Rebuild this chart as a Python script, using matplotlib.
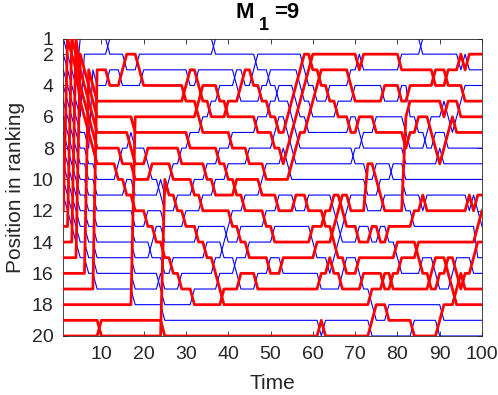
import matplotlib
matplotlib.use("Agg")
import matplotlib.pyplot as plt
import numpy as np

# ---- data -------------------------------------------------------------
n_positions = 20
time_first, time_last = 1, 100
# colour class of the item sitting at each position at time 1 (top -> bottom)
initial_class = ['blue'] * 11 + ['red'] * 9
# ranking moves: (time, from_position, to_position); the item at from_position
# moves to to_position between time and time+1, the items in between shift by one
moves = [
    (1, 12, 1), (2, 13, 1), (3, 14, 1), (4, 4, 1), (4, 15, 2), (5, 6, 2),
    (6, 16, 3), (7, 8, 3), (8, 17, 3), (9, 20, 19), (11, 1, 2), (11, 3, 4),
    (13, 9, 10), (14, 3, 4), (14, 8, 9), (15, 2, 3), (15, 10, 11), (16, 7, 8),
    (17, 18, 6), (18, 2, 3), (19, 3, 4), (20, 8, 9), (20, 12, 13), (21, 9, 10),
    (21, 14, 15), (22, 13, 14), (23, 10, 11), (23, 16, 17), (24, 20, 10),
    (25, 10, 11), (26, 9, 10), (26, 15, 16), (27, 11, 12), (28, 8, 9),
    (28, 16, 17), (29, 4, 5), (29, 12, 13), (30, 7, 8), (30, 3, 4),
    (31, 10, 11), (31, 17, 18), (32, 3, 4), (32, 5, 6), (32, 13, 14),
    (33, 4, 5), (33, 6, 7), (33, 11, 12), (34, 9, 10), (34, 14, 15), (35, 5, 6),
    (36, 1, 2), (36, 10, 11), (36, 15, 16), (37, 4, 5), (37, 8, 9), (37, 16, 17),
    (38, 14, 15), (38, 17, 18), (39, 5, 6), (39, 9, 10), (39, 13, 14),
    (40, 7, 8), (40, 12, 13), (41, 3, 4), (41, 10, 11), (41, 15, 16),
    (42, 4, 5), (42, 13, 14), (42, 16, 17), (43, 3, 4), (43, 11, 12),
    (44, 8, 9), (44, 14, 15), (45, 3, 4), (46, 2, 3), (46, 6, 7), (46, 16, 17),
    (47, 4, 5), (47, 10, 11), (48, 12, 13), (48, 9, 10), (49, 5, 6),
    (49, 15, 16), (49, 3, 4), (50, 7, 8), (50, 13, 14), (51, 4, 5), (51, 6, 7),
    (51, 11, 12), (52, 8, 9), (52, 15, 16), (53, 6, 7), (53, 8, 9), (54, 5, 6),
    (54, 7, 8), (54, 9, 10), (55, 4, 5), (55, 6, 7), (55, 8, 9), (55, 11, 12),
    (56, 3, 4), (56, 5, 6), (56, 7, 8), (57, 2, 3), (57, 4, 5), (58, 3, 4),
    (58, 6, 7), (58, 11, 12), (59, 2, 3), (59, 5, 6), (59, 13, 14), (60, 4, 5),
    (60, 14, 15), (61, 19, 20), (61, 3, 4), (61, 16, 17), (62, 19, 20),
    (62, 12, 13), (63, 4, 5), (63, 15, 16), (64, 11, 12), (64, 13, 14),
    (64, 15, 16), (65, 12, 13), (65, 14, 15), (65, 5, 6), (66, 13, 14),
    (66, 16, 17), (66, 11, 12), (67, 12, 13), (67, 15, 16), (68, 3, 4),
    (68, 6, 7), (68, 11, 12), (69, 4, 5), (69, 8, 9), (70, 2, 3), (70, 6, 7),
    (70, 13, 14), (70, 15, 16), (71, 2, 3), (71, 7, 8), (71, 16, 17),
    (72, 12, 9),
    (73, 13, 14), (73, 17, 18), (73, 19, 20),
    (74, 18, 19), (74, 9, 10), (74, 6, 7),
    (75, 10, 11), (75, 13, 14),
    (76, 4, 5), (76, 11, 12), (76, 16, 17),
    (77, 13, 14), (77, 18, 19),
    (78, 9, 10), (78, 16, 17),
    (79, 14, 15),
    (80, 2, 3), (80, 4, 5), (80, 15, 16),
    (81, 12, 6),
    (82, 4, 5), (82, 5, 6), (82, 7, 8),
    (83, 12, 13), (83, 19, 20),
    (84, 6, 7), (84, 14, 15),
    (85, 1, 2), (85, 15, 16), (85, 11, 12),
    (86, 11, 12), (86, 7, 8),
    (87, 6, 7), (87, 16, 17),
    (88, 7, 8), (88, 3, 4), (88, 15, 16),
    (89, 8, 9), (89, 19, 20), (89, 16, 17),
    (90, 18, 19), (90, 5, 6), (90, 8, 9),
    (91, 5, 6), (91, 7, 8), (91, 15, 16), (91, 3, 4),
    (92, 6, 7), (92, 16, 17),
    (93, 6, 7), (93, 15, 16), (93, 17, 18),
    (94, 5, 6), (94, 2, 3), (94, 16, 17),
    (95, 2, 3), (95, 4, 5), (95, 16, 17),
    (96, 2, 3), (96, 11, 12),
    (97, 11, 12), (97, 15, 16),
    (98, 11, 12), (98, 13, 14), (98, 14, 15),
    (99, 12, 13),
]
title_main, title_sub, title_rest = 'M', '1', '=9'
x_label = 'Time'
y_label = 'Position in ranking'
x_ticks = [10, 20, 30, 40, 50, 60, 70, 80, 90, 100]
y_ticks = [1, 2, 4, 6, 8, 10, 12, 14, 16, 18, 20]

# ---- build trajectories ----------------------------------------------
times = np.arange(time_first, time_last + 1)
order = list(range(n_positions))          # order[k] = item at position k+1
traj = np.zeros((n_positions, len(times)))
for k, t in enumerate(times):
    for p, item in enumerate(order):
        traj[item, k] = p + 1
    for (tm, a, b) in moves:
        if tm == t:
            item = order.pop(a - 1)
            order.insert(b - 1, item)

# ---- figure ------------------------------------------------------------
plt.rcParams['font.family'] = ['Liberation Sans', 'DejaVu Sans']
fig = plt.figure(figsize=(4.98, 3.95), dpi=100)
ax = fig.add_axes([0.1271, 0.1494, 0.8408, 0.7531])

for item in range(n_positions):
    if initial_class[item] == 'blue':
        ax.plot(times, traj[item], color=(0, 0, 1), lw=0.8, zorder=2)
for item in range(n_positions):
    if initial_class[item] == 'red':
        ax.plot(times, traj[item], color=(1, 0, 0), lw=2.0, zorder=3)

grey = (0.15, 0.15, 0.15)
ax.set_xlim(time_first, time_last)
ax.set_ylim(n_positions, 1)
ax.set_xticks(x_ticks)
ax.set_yticks(y_ticks)
ax.tick_params(direction='in', length=3.5, width=0.6, labelsize=14,
               top=True, right=True, colors=grey)
ax.tick_params(axis='x', pad=7)
ax.tick_params(axis='y', pad=7)
for s in ax.spines.values():
    s.set_color(grey)
    s.set_linewidth(0.6)
ax.set_xlabel(x_label, fontsize=15, color=grey, labelpad=8)
ax.set_ylabel(y_label, fontsize=15, color=grey, labelpad=5)

fig.text(245 / 498, 1 - 18.5 / 395, title_main, fontsize=16, fontweight='bold',
         ha='center', va='baseline')
fig.text(264 / 498, 1 - 30 / 395, title_sub, fontsize=13, fontweight='bold',
         ha='center', va='baseline')
fig.text(287 / 498, 1 - 18.5 / 395, title_rest, fontsize=16, fontweight='bold',
         ha='center', va='baseline')

fig.savefig('out.png', dpi=100)
